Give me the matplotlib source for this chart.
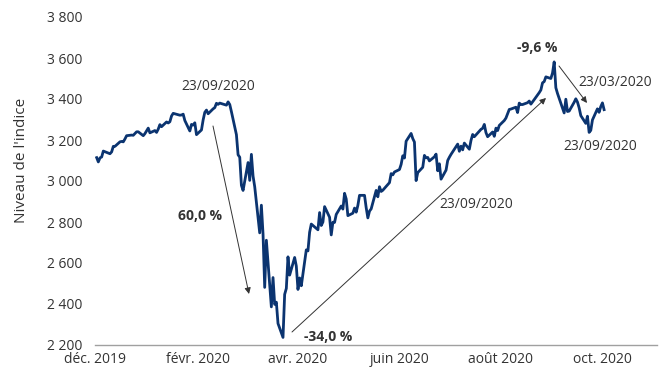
import numpy as np
import pandas as pd
import matplotlib
matplotlib.use('Agg')
import matplotlib.pyplot as plt
from matplotlib.ticker import FuncFormatter

# closing levels, one small list per month (trading days only)
dec19 = [3114, 3093, 3113, 3117, 3146, 3136, 3133, 3142, 3169, 3169, 3191, 3193, 3191, 3205, 3221,
         3224, 3223, 3240, 3240, 3221, 3231]
jan20 = [3258, 3235, 3246, 3237, 3253, 3275, 3265, 3288, 3283, 3289, 3317, 3330, 3321, 3322, 3326,
         3295, 3244, 3276, 3273, 3284, 3226]
feb20 = [3249, 3298, 3335, 3346, 3328, 3352, 3358, 3379, 3374, 3380, 3370, 3386, 3373, 3338, 3226,
         3128, 3116, 2979, 2954]
mar20 = [3090, 3003, 3130, 3024, 2972, 2747, 2882, 2741, 2481, 2711, 2386, 2529, 2398, 2409, 2305,
         2237, 2447, 2476, 2630, 2541, 2627, 2585]
apr20 = [2471, 2527, 2489, 2664, 2659, 2750, 2790, 2762, 2846, 2783, 2800, 2875, 2823, 2737, 2799,
         2798, 2837, 2878, 2863, 2940, 2912]
may20 = [2831, 2843, 2868, 2848, 2881, 2930, 2930, 2870, 2820, 2853, 2864, 2954, 2923, 2972, 2949,
         2955, 2992, 3036, 3030, 3044]
jun20 = [3056, 3081, 3123, 3112, 3194, 3232, 3207, 3190, 3002, 3041, 3067, 3125, 3113, 3115, 3098,
         3118, 3131, 3050, 3084, 3009, 3053, 3100]
jul20 = [3116, 3130, 3180, 3145, 3170, 3152, 3185, 3155, 3198, 3227, 3216, 3225, 3252, 3257, 3276,
         3236, 3216, 3239, 3218, 3258, 3246, 3271]
aug20 = [3295, 3307, 3328, 3349, 3351, 3360, 3334, 3380, 3373, 3373, 3382, 3390, 3375, 3386, 3397,
         3431, 3444, 3479, 3485, 3508, 3500]
sep20 = [3527, 3581, 3455, 3427, 3332, 3399, 3339, 3341, 3384, 3401, 3385, 3357, 3319, 3281, 3316,
         3237, 3247, 3298, 3352, 3335, 3363]
oct20 = [3381, 3348]

holidays = ['2019-12-25', '2020-01-01', '2020-01-20', '2020-02-17', '2020-04-10',
            '2020-05-25', '2020-07-03', '2020-09-07']
tick_dates = ['2019-12-01', '2020-02-01', '2020-04-01', '2020-06-01', '2020-08-01', '2020-10-01']
tick_labels = ['déc. 2019', 'févr. 2020', 'avr. 2020', 'juin 2020', 'août 2020', 'oct. 2020']
y_ticks = [2200, 2400, 2600, 2800, 3000, 3200, 3400, 3600, 3800]

values = dec19 + jan20 + feb20 + mar20 + apr20 + may20 + jun20 + jul20 + aug20 + sep20 + oct20
days = pd.bdate_range('2019-12-02', '2020-10-02')
days = days[~days.isin(pd.to_datetime(holidays))]

plt.rcParams['font.family'] = ['Open Sans', 'DejaVu Sans']
plt.rcParams['font.size'] = 10
txt = '#333333'

fig = plt.figure(figsize=(6.64, 3.73), dpi=100)
ax = fig.add_axes([95 / 664, 28 / 373, 562 / 664, 328 / 373])
ax.plot(days, values, color='#0b3470', lw=2.0, solid_joinstyle='round')

start = pd.Timestamp('2019-12-01')
ax.set_xlim(start + pd.Timedelta(days=0.3), start + pd.Timedelta(days=337.8))
ax.set_ylim(2200, 3800)
ax.set_xticks(pd.to_datetime(tick_dates))
ax.set_xticklabels(tick_labels)
ax.set_yticks(y_ticks)
ax.yaxis.set_major_formatter(FuncFormatter(lambda v, p: f'{int(v):,}'.replace(',', ' ')))
ax.tick_params(axis='both', length=0, labelcolor=txt, labelsize=10)
ax.tick_params(axis='x', pad=5)
ax.tick_params(axis='y', pad=9)
for s in ['top', 'right', 'left']:
    ax.spines[s].set_visible(False)
ax.spines['bottom'].set_color('#a0a0a0')
ax.spines['bottom'].set_linewidth(1)

fig.text(22 / 664, 1 - 160 / 373, "Niveau de l'indice", rotation=90,
         ha='center', va='center', color=txt, fontsize=11)


def P(x, y):
    # image pixel (from top-left) -> figure pixels
    return (x, 373 - y)


arrow = dict(arrowstyle='-|>', color='#333333', lw=0.7, mutation_scale=9,
             shrinkA=0, shrinkB=0)
fc = 'figure pixels'
ax.annotate('', xy=P(249, 294), xytext=P(213, 126), xycoords=fc, textcoords=fc, arrowprops=arrow)
ax.annotate('', xy=P(546, 98), xytext=P(292, 332), xycoords=fc, textcoords=fc, arrowprops=arrow)
ax.annotate('', xy=P(587, 103), xytext=P(559, 66), xycoords=fc, textcoords=fc, arrowprops=arrow)

labels = [
    ('23/09/2020', 218, 86, 'normal'),
    ('60,0 %', 200, 216, 'bold'),
    ('-34,0 %', 328, 337, 'bold'),
    ('23/09/2020', 476, 205, 'normal'),
    ('-9,6 %', 537, 48, 'bold'),
    ('23/03/2020', 615, 82, 'normal'),
    ('23/09/2020', 600, 147, 'normal'),
]
for t, x, y, w in labels:
    ax.annotate(t, xy=P(x, y), xycoords=fc, ha='center', va='center',
                color=txt, fontsize=10, fontweight=w)

plt.savefig('out.png', dpi=100)
